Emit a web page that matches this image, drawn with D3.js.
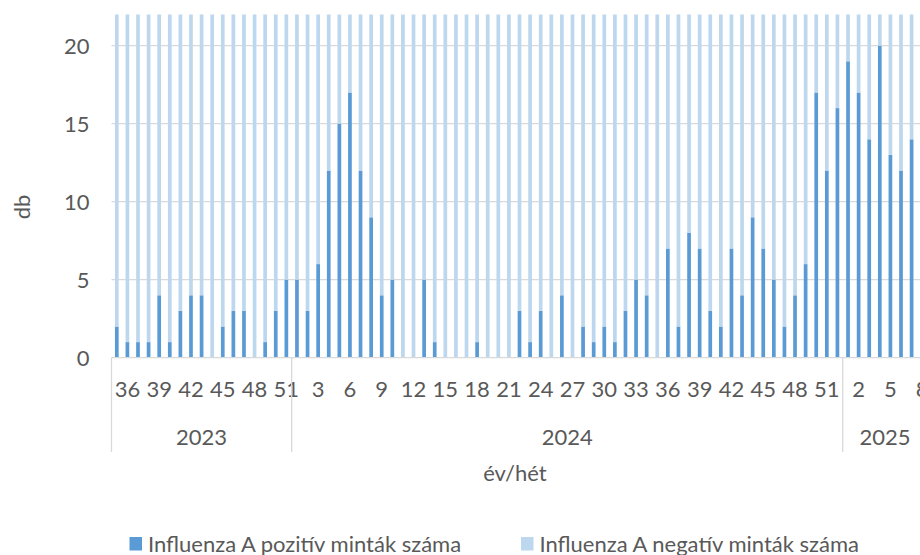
<!DOCTYPE html>
<html>
<head>
<meta charset="utf-8">
<script src="https://cdn.jsdelivr.net/npm/d3@7"></script>
<style>
  html, body { margin: 0; padding: 0; background: #fff; }
  svg { display: block; font-family: Lato, "Open Sans", sans-serif; }
</style>
</head>
<body>
<svg id="chart" width="920" height="555"></svg>
<script>
// ---- data ----
const years = ["2023", "2024", "2025"];
const weeks2023 = [35,36,37,38,39,40,41,42,43,44,45,46,47,48,49,50,51];
const weeks2024 = [1,2,3,4,5,6,7,8,9,10,11,12,13,14,15,16,17,18,19,20,21,22,23,24,25,26,
                   27,28,29,30,31,32,33,34,35,36,37,38,39,40,41,42,43,44,45,46,47,48,49,50,51,52];
const weeks2025 = [1,2,3,4,5,6,7,8];

const positive2023 = [2,1,1,1,4,1,3,4,4,0,2,3,3,0,1,3,5];
const positive2024 = [5,3,6,12,15,17,12,9,4,5,0,0,5,1,0,0,0,1,0,0,0,3,1,3,0,4,
                      0,2,1,2,1,3,5,4,0,7,2,8,7,3,2,7,4,9,7,5,2,4,6,17,12,16];
const positive2025 = [19,17,14,20,13,12,14,12];

const negative2023 = [38,41,36,40,35,39,37,42,44,36,40,38,41,37,39,35,43];
const negative2024 = [41,38,40,33,30,31,35,36,39,37,42,40,38,41,39,36,40,38,44,39,37,40,38,41,36,39,
                      37,40,38,41,39,36,38,40,37,35,39,34,36,38,40,35,37,33,36,39,38,35,34,29,31,30];
const negative2025 = [27,29,30,26,31,32,28,30];

const seriesNames = ["Influenza A pozitív minták száma", "Influenza A negatív minták száma"];
const yTicks = [0, 5, 10, 15, 20];
const yTitle = "db";
const xTitle = "év/hét";

// ---- build table ----
const groups = [
  { year: years[0], weeks: weeks2023, pos: positive2023, neg: negative2023 },
  { year: years[1], weeks: weeks2024, pos: positive2024, neg: negative2024 },
  { year: years[2], weeks: weeks2025, pos: positive2025, neg: negative2025 }
];
const rows = [];
groups.forEach(g => g.weeks.forEach((w, i) => {
  rows.push({ key: g.year + "-" + w, year: g.year, week: w, pos: g.pos[i], neg: g.neg[i] });
}));

// ---- layout ----
const svg = d3.select("#chart");
const colPos = "#5b9bd5", colNeg = "#bdd7ee";
const textCol = "#595959", gridCol = "#d9d9d9";
const x0 = 111.5, x1 = 927.5, yBase = 357.7, yTop = 14.5;
const pad = 0.65;
const fs = "22px";

const x = d3.scaleBand().domain(rows.map(d => d.key)).range([x0, x1])
  .paddingInner(pad).paddingOuter(pad / 2);
const y = d3.scaleLinear().domain([0, 22]).range([yBase, yTop]);
const step = x.step();

// gridlines
svg.append("g").selectAll("line").data(yTicks.filter(t => t > 0)).join("line")
  .attr("x1", x0).attr("x2", x1).attr("y1", d => y(d)).attr("y2", d => y(d))
  .attr("stroke", gridCol).attr("stroke-width", 1.3);

// clip
svg.append("clipPath").attr("id", "plotclip").append("rect")
  .attr("x", x0).attr("y", yTop).attr("width", x1 - x0).attr("height", yBase - yTop);

const stack = d3.stack().keys(["pos", "neg"]);
const stacked = stack(rows);
const colors = [colPos, colNeg];
svg.append("g").attr("clip-path", "url(#plotclip)")
  .selectAll("g").data(stacked).join("g").attr("fill", (d, i) => colors[i])
  .selectAll("rect").data(d => d).join("rect")
  .attr("x", d => x(d.data.key))
  .attr("width", x.bandwidth())
  .attr("y", d => y(d[1]))
  .attr("height", d => Math.max(0, y(d[0]) - y(d[1])));

// x axis line
svg.append("line").attr("x1", x0).attr("x2", x1).attr("y1", yBase).attr("y2", yBase)
  .attr("stroke", gridCol).attr("stroke-width", 1.3);

// y axis labels
const yAxis = d3.axisLeft(y).tickValues(yTicks).tickSize(0).tickPadding(0);
const gy = svg.append("g").attr("transform", `translate(89.5,0)`).call(yAxis);
gy.select(".domain").remove();
gy.selectAll("text").attr("fill", textCol).style("font-size", fs)
  .style("font-family", "Lato, 'Open Sans', sans-serif").attr("dy", "0.36em");

// x axis week labels (every 3rd category)
const tickKeys = rows.filter((d, i) => (i - 1) % 3 === 0).map(d => d.key);
const weekOf = new Map(rows.map(d => [d.key, d.week]));
const xAxis = d3.axisBottom(x).tickValues(tickKeys).tickSize(0).tickPadding(0)
  .tickFormat(k => weekOf.get(k));
const gx = svg.append("g").attr("transform", `translate(0,${yBase})`).call(xAxis);
gx.select(".domain").remove();
gx.selectAll("text").attr("fill", textCol).style("font-size", fs)
  .style("font-family", "Lato, 'Open Sans', sans-serif").attr("y", 39).attr("dy", 0);

// group separators and year labels
let idx = 0;
const bounds = [x0];
const centers = [];
groups.forEach(g => {
  const start = x0 + idx * step;
  idx += g.weeks.length;
  const end = x0 + idx * step;
  bounds.push(end);
  centers.push({ year: g.year, cx: (start + end) / 2 });
});
svg.append("g").selectAll("line").data(bounds).join("line")
  .attr("x1", d => d).attr("x2", d => d).attr("y1", yBase).attr("y2", 452)
  .attr("stroke", gridCol).attr("stroke-width", 1.3);
svg.append("g").selectAll("text").data(centers).join("text")
  .attr("x", d => d.cx).attr("y", 445).attr("text-anchor", "middle")
  .attr("fill", textCol).style("font-size", fs).text(d => d.year);

// axis titles
svg.append("text").attr("x", 515).attr("y", 481).attr("text-anchor", "middle")
  .attr("fill", textCol).style("font-size", fs).text(xTitle);
svg.append("text").attr("transform", "translate(30,207) rotate(-90)")
  .attr("text-anchor", "middle").attr("fill", textCol).style("font-size", fs).text(yTitle);

// legend
const legend = svg.append("g");
const legX = [129.5, 521];
seriesNames.forEach((name, i) => {
  legend.append("rect").attr("x", legX[i]).attr("y", 537).attr("width", 12.5).attr("height", 13.5)
    .attr("fill", colors[i]);
  legend.append("text").attr("x", legX[i] + 18.5).attr("y", 551.5)
    .attr("fill", textCol).style("font-size", fs).text(name);
});
</script>
</body>
</html>
